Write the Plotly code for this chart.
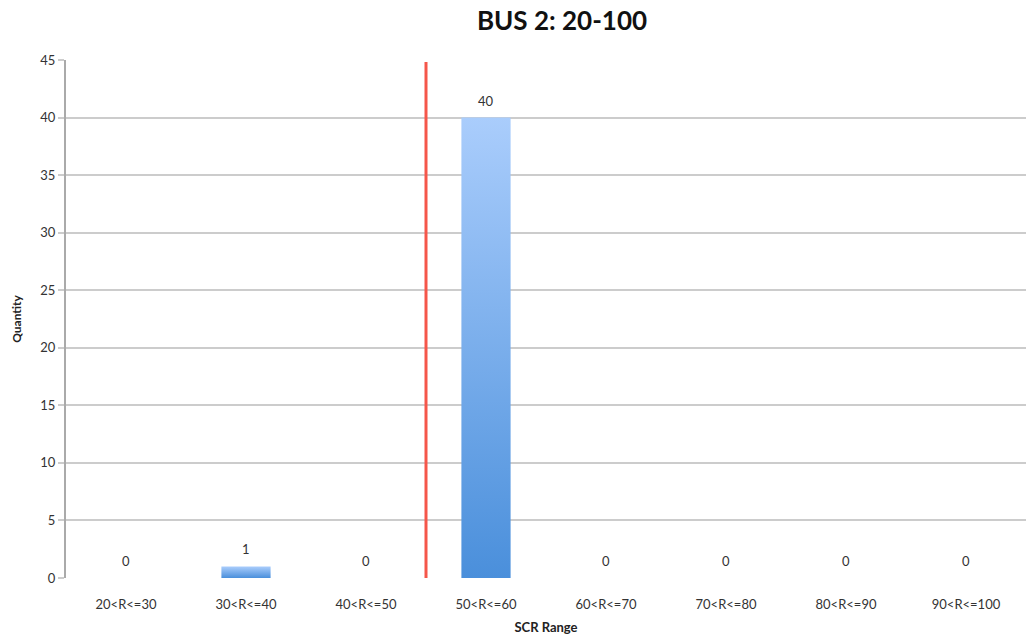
import plotly.graph_objects as go

categories = ["20<R<=30", "30<R<=40", "40<R<=50", "50<R<=60",
              "60<R<=70", "70<R<=80", "80<R<=90", "90<R<=100"]
quantities = [0, 1, 0, 40, 0, 0, 0, 0]
y_ticks = [0, 5, 10, 15, 20, 25, 30, 35, 40, 45]
threshold_position = 2.5  # between 40<R<=50 and 50<R<=60

BAR_WIDTH = 0.41
TOP_COLOR = "#aacdfc"
BOTTOM_COLOR = "#4a8fdb"
FONT = "Lato, Open Sans, sans-serif"

fig = go.Figure()

xs = list(range(len(categories)))

# gradient-filled bars built from the data values
for i, v in zip(xs, quantities):
    if v <= 0:
        continue
    x0, x1 = i - BAR_WIDTH / 2, i + BAR_WIDTH / 2
    fig.add_trace(go.Scatter(
        x=[x0, x1, x1, x0, x0], y=[0, 0, v, v, 0],
        mode="lines", line=dict(width=0), fill="toself",
        fillgradient=dict(type="vertical", start=0, stop=v,
                          colorscale=[[0, BOTTOM_COLOR], [1, TOP_COLOR]]),
        showlegend=False, hoverinfo="skip"))

# value labels
for i, v in zip(xs, quantities):
    fig.add_annotation(x=i, y=v, text=str(v), showarrow=False,
                       yanchor="middle", yshift=17,
                       font=dict(family=FONT, size=13, color="#333333"))

fig.add_shape(type="line", xref="x", yref="paper",
              x0=threshold_position, x1=threshold_position, y0=0, y1=0.996,
              line=dict(color="#f5564a", width=3), layer="above")

fig.update_layout(
    width=1026, height=639,
    margin=dict(l=66, r=0, t=60, b=61),
    paper_bgcolor="white", plot_bgcolor="white",
    title=dict(text="<b>BUS 2: 20-100</b>", x=562 / 1026, xanchor="center",
               xref="container", y=1 - 21 / 639, yanchor="middle", yref="container",
               font=dict(family=FONT, size=26, color="#111111")),
    font=dict(family=FONT, size=12, color="#333333"),
)

fig.update_xaxes(
    range=[-0.5, len(categories) - 0.5], tickvals=xs, ticktext=categories,
    showgrid=False, zeroline=False, showline=False,
    ticks="outside", ticklen=14, tickcolor="rgba(0,0,0,0)",
    tickfont=dict(size=13, color="#333333"), automargin=False,
    title=dict(text="<b>SCR Range</b>", font=dict(size=13, color="#222222"), standoff=12),
    fixedrange=True)

fig.update_yaxes(
    range=[0, 45], tickvals=y_ticks,
    showgrid=True, gridcolor="#cccccc", gridwidth=2,
    zeroline=False, showline=True, linecolor="#aaaaaa", linewidth=2,
    ticks="outside", ticklen=6, tickcolor="#cccccc", tickwidth=2,
    tickfont=dict(size=13, color="#333333"), automargin=False,
    title=dict(text="<b>Quantity</b>", font=dict(size=12, color="#222222"), standoff=16),
    fixedrange=True)

fig.write_html("out.html", config={"displayModeBar": False},
               post_script="document.body.style.margin='0';document.body.style.overflow='hidden';")
